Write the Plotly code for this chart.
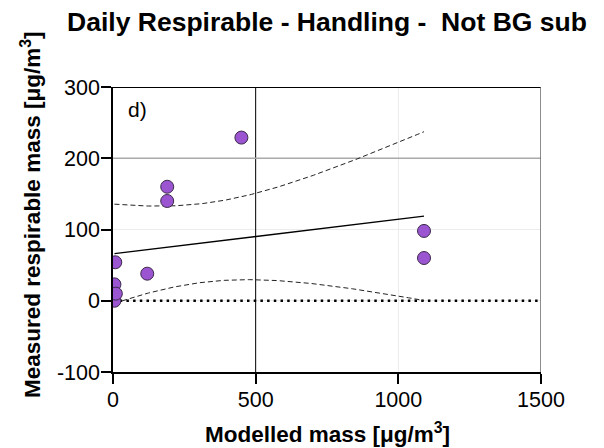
import numpy as np
import plotly.graph_objects as go

# modelled vs measured respirable mass
modelled = [5, 5, 10, 8, 120, 190, 190, 450, 1090, 1090]
measured = [0, 23, 10, 54, 38, 140, 160, 229, 98, 60]

x_ticks = [0, 500, 1000, 1500]
y_ticks = [-100, 0, 100, 200, 300]
y_tick_text = ["-100", "0", "100", "200", "300"]

# linear fit with 95% confidence band of the mean
x = np.array(modelled, dtype=float)
y = np.array(measured, dtype=float)
n = len(x)
slope, intercept = np.polyfit(x, y, 1)
resid = y - (intercept + slope * x)
s = np.sqrt((resid ** 2).sum() / (n - 2))
sxx = ((x - x.mean()) ** 2).sum()
t_crit = 2.306  # t(0.975, df=8)

xf = np.linspace(x.min(), x.max(), 200)
yf = intercept + slope * xf
hw = t_crit * s * np.sqrt(1 / n + (xf - x.mean()) ** 2 / sxx)

fig = go.Figure()

# y = 0 dotted line
fig.add_trace(go.Scatter(x=[0, 1500], y=[0, 0], mode="lines",
                         line=dict(color="black", width=2.5, dash="2.5px,4.2px"),
                         hoverinfo="skip"))
fig.add_trace(go.Scatter(x=xf, y=yf + hw, mode="lines",
                         line=dict(color="#222", width=1, dash="5px,3px")))
fig.add_trace(go.Scatter(x=xf, y=yf - hw, mode="lines",
                         line=dict(color="#222", width=1, dash="5px,3px")))
fig.add_trace(go.Scatter(x=xf, y=yf, mode="lines",
                         line=dict(color="black", width=1.3)))
fig.add_trace(go.Scatter(x=modelled, y=measured, mode="markers",
                         marker=dict(size=13, color="#9b55d1",
                                     line=dict(color="#3a2a4a", width=1))))

# extra reference lines and frame
fig.add_shape(type="line", x0=500, x1=500, y0=-100, y1=300,
              line=dict(color="black", width=1), layer="between")
fig.add_shape(type="line", x0=0, x1=1500, y0=200, y1=200,
              line=dict(color="#aaaaaa", width=1.5), layer="between")
fig.add_shape(type="line", x0=0, x1=1500, y0=300, y1=300,
              line=dict(color="black", width=2))
fig.add_shape(type="line", x0=1500, x1=1500, y0=-100, y1=300,
              line=dict(color="#666666", width=1.5))

fig.add_annotation(x=87, y=269, text="d)", showarrow=False,
                   font=dict(size=21, color="black"))
fig.add_annotation(xref="paper", yref="paper", x=-0.1916, y=0.551,
                   xanchor="center", yanchor="middle",
                   text="<b>Measured respirable mass [μg/m<sup>3</sup>]</b>",
                   textangle=-90, showarrow=False,
                   font=dict(size=22.5, color="black"))
fig.add_annotation(xref="paper", yref="paper", x=0.5, y=-0.214,
                   xanchor="center", yanchor="middle",
                   text="<b>Modelled mass [μg/m<sup>3</sup>]</b>",
                   showarrow=False, font=dict(size=22.5, color="black"))

fig.update_layout(
    width=604, height=448,
    margin=dict(l=105, r=71, t=79, b=84),
    paper_bgcolor="white", plot_bgcolor="white",
    showlegend=False,
    font=dict(family="Liberation Sans, Arial, sans-serif", color="black"),
    title=dict(text="<b>Daily Respirable - Handling -  Not BG sub</b>",
               xref="paper", x=0.5, xanchor="center",
               yref="container", y=0.97, yanchor="middle",
               font=dict(size=26.5, color="black")),
)
fig.update_xaxes(
    range=[0, 1500], tickvals=x_ticks, ticks="outside", ticklen=10,
    tickwidth=1.5, tickcolor="black", showline=True, linecolor="black",
    linewidth=1.5, showgrid=True, gridcolor="#ececec", gridwidth=1,
    zeroline=False, tickfont=dict(size=21.5), ticklabelstandoff=-3,
)
fig.update_yaxes(
    range=[-100, 300], tickvals=y_ticks, ticktext=y_tick_text,
    ticks="outside", ticklen=10,
    tickwidth=1.5, tickcolor="black", showline=True, linecolor="black",
    linewidth=1.5, showgrid=True, gridcolor="#ececec", gridwidth=1,
    zeroline=False, tickfont=dict(size=21.5), ticklabelstandoff=-3,
)

fig.write_html("out.html")
